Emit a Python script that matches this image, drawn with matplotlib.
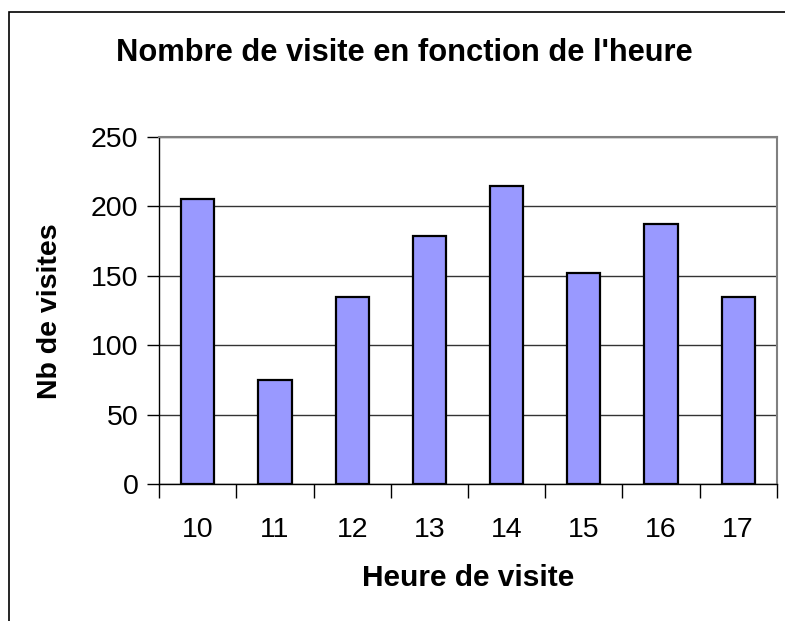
import matplotlib
matplotlib.use("Agg")
import matplotlib.pyplot as plt
from matplotlib.patches import Rectangle
import numpy as np

plt.rcParams['font.family'] = ['Liberation Sans', 'DejaVu Sans']

heures = ['10', '11', '12', '13', '14', '15', '16', '17']
visites = [205, 75, 135, 179, 215, 152, 187, 135]
y_ticks = [0, 50, 100, 150, 200, 250]

W, H = 785, 621
fig = plt.figure(figsize=(W / 100, H / 100), dpi=100)

# outer chart border (right/bottom outside the frame)
fig.add_artist(Rectangle((9 / W, -0.2), 1.3, 1 - 12 / H + 0.2, transform=fig.transFigure,
                         fill=False, edgecolor='black', linewidth=1.2))

ax = fig.add_axes([159.3 / W, 1 - 484 / H, (776.7 - 159.3) / W, (484 - 137) / H])

x = np.arange(len(heures))
ax.bar(x, visites, width=0.43, color='#9999FF', edgecolor='black', linewidth=1.6, zorder=3)

ax.set_xlim(-0.5, len(heures) - 0.5)
ax.set_ylim(0, 250)
ax.set_yticks(y_ticks)
ax.set_yticklabels([str(v) for v in y_ticks], fontsize=20.5)
ax.yaxis.grid(True, color='#333333', linewidth=1.0, zorder=0)

ax.set_xticks(np.arange(len(heures) + 1) - 0.5)
ax.set_xticklabels([])
ax.set_xticks(x, minor=True)
ax.set_xticklabels(heures, minor=True, fontsize=20.5)
ax.tick_params(axis='x', which='major', length=10, width=1, direction='out')
ax.tick_params(axis='x', which='minor', length=0, pad=24)
ax.tick_params(axis='y', length=9, width=1, direction='out', pad=6)

for s in ['top', 'right']:
    ax.spines[s].set_color('#808080')
    ax.spines[s].set_linewidth(1.5)
for s in ['left', 'bottom']:
    ax.spines[s].set_color('black')
    ax.spines[s].set_linewidth(1.0)

fig.text(404 / W, 1 - 53 / H, "Nombre de visite en fonction de l'heure",
         ha='center', va='center', fontsize=22.2, fontweight='bold')
fig.text(468 / W, 1 - 578 / H, "Heure de visite",
         ha='center', va='center', fontsize=21.5, fontweight='bold')
fig.text(50 / W, 1 - 311 / H, "Nb de visites", rotation=90,
         ha='center', va='center', fontsize=20.5, fontweight='bold')

fig.savefig('out.png', dpi=100)
